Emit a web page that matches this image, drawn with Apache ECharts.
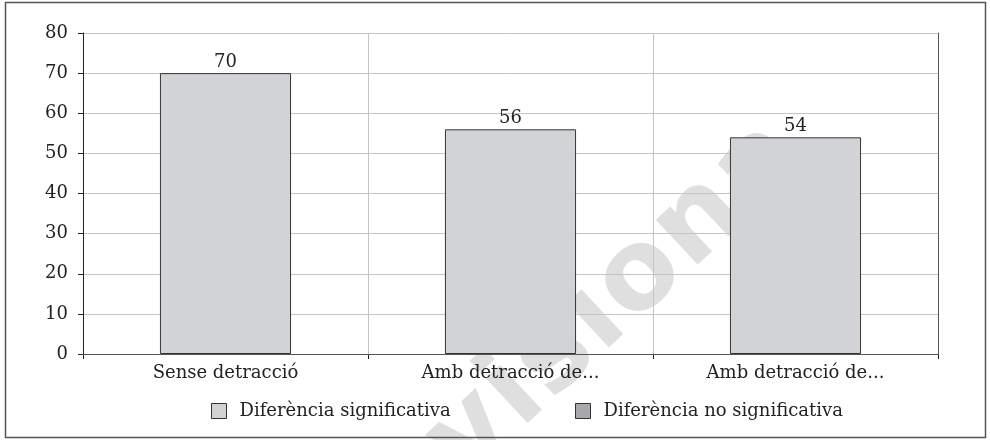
<!DOCTYPE html>
<html>
<head>
<meta charset="utf-8">
<script src="https://cdn.jsdelivr.net/npm/echarts@6/dist/echarts.min.js"></script>
<style>html,body{margin:0;padding:0;background:#fff}#c{width:990px;height:440px}</style>
</head>
<body>
<div id="c"></div>
<script>
var categories = ['Sense detracció', 'Amb detracció de...', 'Amb detracció de...'];
var significantValues = [70, 56, 54];
var nonSignificantValues = [];
var seriesNames = ['Diferència significativa', 'Diferència no significativa'];
var yTicks = {min: 0, max: 80, interval: 10};
var watermarkText = 'Provisiona';

var FONT = 'DejaVu Serif';
var FS = 18;

// watermark letters laid out individually (decoration, not data)
var wmFont = 'bold 112px "DejaVu Sans"';
var wmAngle = 43 * Math.PI / 180;
var wmTrack = 3;
var ctx = document.createElement('canvas').getContext('2d');
ctx.font = wmFont;
var letters = watermarkText.split('');
var centers = [], acc = 0;
letters.forEach(function (ch) {
  var w = ctx.measureText(ch).width;
  centers.push(acc + w / 2);
  acc += w + wmTrack;
});
var anchorIdx = 5; // the 's'
var dx = Math.cos(wmAngle), dy = -Math.sin(wmAngle);
var ax = 561 - 8 * Math.sin(wmAngle), ay = 363 - 8 * Math.cos(wmAngle);
var wmGraphics = letters.map(function (ch, k) {
  var off = centers[k] - centers[anchorIdx];
  return {type: 'text', z: -10, x: ax + off * dx, y: ay + off * dy, rotation: wmAngle,
    style: {text: ch, font: wmFont, fill: '#dfdfdf', textAlign: 'center', textVerticalAlign: 'middle'}};
});

var chart = echarts.init(document.getElementById('c'), null, {renderer: 'canvas'});
chart.setOption({
  animation: false,
  backgroundColor: '#fff',
  grid: {left: 83, right: 52, top: 33, bottom: 86, show: false},
  legend: [
    {data: [seriesNames[0]], left: 206, top: 397, itemWidth: 15, itemHeight: 15, icon: 'rect',
     itemStyle: {borderColor: '#333', borderWidth: 1},
     textStyle: {fontFamily: FONT, fontSize: FS, color: '#222', padding: [0, 0, 0, 8]}},
    {data: [seriesNames[1]], left: 570, top: 397, itemWidth: 15, itemHeight: 15, icon: 'rect',
     itemStyle: {borderColor: '#333', borderWidth: 1},
     textStyle: {fontFamily: FONT, fontSize: FS, color: '#222', padding: [0, 0, 0, 8]}}
  ],
  xAxis: [{
    type: 'category', data: categories,
    axisLine: {lineStyle: {color: '#222', width: 1}},
    axisTick: {show: true, length: 5, lineStyle: {color: '#222'}},
    axisLabel: {fontFamily: FONT, fontSize: FS, color: '#222', margin: 10},
    splitLine: {show: true, lineStyle: {color: '#c4c4c4', width: 1}}
  }, {
    type: 'category', data: categories, position: 'top', z: 3,
    axisLine: {show: true, lineStyle: {color: '#555', width: 1}},
    axisTick: {show: false}, axisLabel: {show: false}, splitLine: {show: false}
  }],
  yAxis: [{
    type: 'value', min: yTicks.min, max: yTicks.max, interval: yTicks.interval,
    axisLine: {show: true, lineStyle: {color: '#222', width: 1}},
    axisTick: {show: true, length: 5, lineStyle: {color: '#222'}},
    axisLabel: {fontFamily: FONT, fontSize: FS, color: '#222', margin: 15},
    splitLine: {show: true, lineStyle: {color: '#c4c4c4', width: 1}}
  }, {
    type: 'value', min: yTicks.min, max: yTicks.max, interval: yTicks.interval, position: 'right', z: 3,
    axisLine: {show: true, lineStyle: {color: '#555', width: 1}},
    axisTick: {show: false}, axisLabel: {show: false}, splitLine: {show: false}
  }],
  series: [
    {name: seriesNames[0], type: 'bar', data: significantValues, barWidth: '46%', barGap: '-100%',
     itemStyle: {color: '#d2d3d5', borderColor: '#333', borderWidth: 1},
     label: {show: true, position: 'top', distance: 2, fontFamily: FONT, fontSize: FS, color: '#222'}},
    {name: seriesNames[1], type: 'bar', data: nonSignificantValues, barWidth: '46%', barGap: '-100%',
     itemStyle: {color: '#a7a8aa', borderColor: '#333', borderWidth: 1}}
  ],
  graphic: wmGraphics.concat([
    {type: 'rect', z: 100, shape: {x: 5.5, y: 2.5, width: 980, height: 435},
     style: {fill: 'none', stroke: '#555', lineWidth: 1.5}}
  ])
});
</script>
</body>
</html>
